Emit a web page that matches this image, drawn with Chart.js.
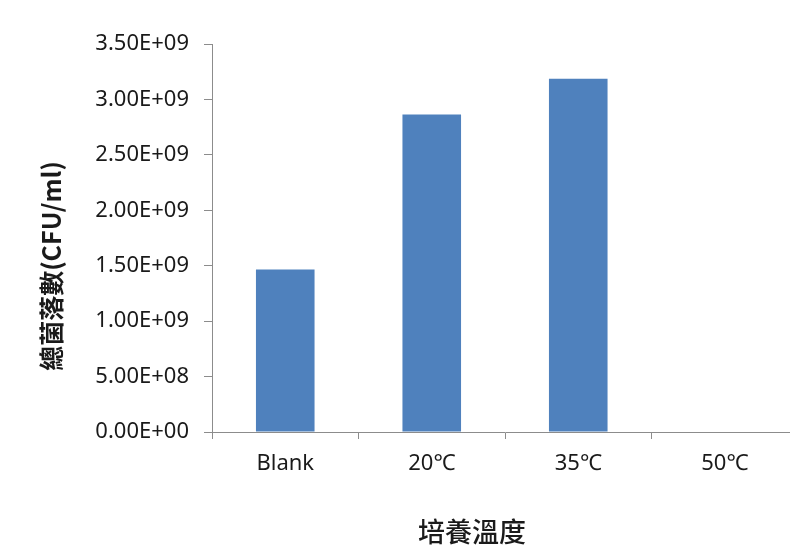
<!DOCTYPE html>
<html>
<head>
<meta charset="utf-8">
<script src="https://cdn.jsdelivr.net/npm/chart.js@4/dist/chart.umd.min.js"></script>
<style>
  html, body { margin: 0; padding: 0; background: #fff; overflow: hidden; }
  #wrap { width: 800px; height: 553px; }
</style>
</head>
<body>
<div id="wrap"><canvas id="chart"></canvas></div>
<script>
const categories = ['Blank', '20℃', '35℃', '50℃'];
const totalCounts = [1.466e9, 2.865e9, 3.187e9, 0];
const yTitleText = '總菌落數(CFU/ml)';
const xTitleText = '培養溫度';

const axisGray = '#8c8c8c';
const labelFont = '"Noto Sans", "Noto Sans CJK TC", sans-serif';

// 3.50E+09 style labels
const sciLabel = (v) => {
    if (Math.abs(v) < 1) return '0.00E+00';
    const e = Math.floor(Math.log10(v) + 1e-9);
    const m = v / Math.pow(10, e);
    return m.toFixed(2) + 'E+' + String(e).padStart(2, '0');
};

// axis titles placed by hand, the y one sits a bit below the plot middle
const axisTitles = {
    id: 'axisTitles',
    afterDraw(chart) {
        const { ctx, chartArea } = chart;
        ctx.save();
        ctx.fillStyle = '#1a1a1a';
        ctx.textAlign = 'center';
        ctx.textBaseline = 'middle';

        ctx.font = '500 27px "Noto Sans CJK TC", sans-serif';
        ctx.fillText(xTitleText, chartArea.left + 260, chartArea.bottom + 100);

        ctx.translate(51, chartArea.top + 222);
        ctx.rotate(-Math.PI / 2);
        ctx.font = 'bold 25px "Noto Sans CJK TC", sans-serif';
        ctx.fillText(yTitleText, 0, 0);
        ctx.restore();
    }
};

const ctx = document.getElementById('chart').getContext('2d');
new Chart(ctx, {
    type: 'bar',
    data: {
        labels: categories,
        datasets: [{
            data: totalCounts,
            backgroundColor: '#4f81bd',
            borderWidth: 0,
            categoryPercentage: 1,
            barPercentage: 0.4
        }]
    },
    options: {
        responsive: true,
        maintainAspectRatio: false,
        animation: false,
        devicePixelRatio: 1,
        layout: { padding: { top: 44, left: 0, right: 2, bottom: 0 } },
        plugins: {
            legend: { display: false },
            tooltip: { enabled: false }
        },
        scales: {
            x: {
                offset: true,
                grid: {
                    offset: true,
                    drawOnChartArea: false,
                    drawTicks: true,
                    tickLength: 7,
                    color: axisGray
                },
                border: { display: true, color: axisGray, width: 1 },
                ticks: {
                    color: '#1a1a1a',
                    padding: 12,
                    maxRotation: 0,
                    font: { family: labelFont, size: 22 }
                },
                afterFit: (scale) => { scale.height = 121; }
            },
            y: {
                min: 0,
                max: 3.5e9,
                grid: {
                    drawOnChartArea: false,
                    drawTicks: true,
                    tickLength: 8,
                    color: axisGray
                },
                border: { display: true, color: axisGray, width: 1 },
                ticks: {
                    stepSize: 5e8,
                    color: '#1a1a1a',
                    padding: 15,
                    font: { family: labelFont, size: 22 },
                    callback: (v) => sciLabel(v)
                },
                afterFit: (scale) => { scale.width = 212; }
            }
        }
    },
    plugins: [axisTitles]
});
</script>
</body>
</html>
